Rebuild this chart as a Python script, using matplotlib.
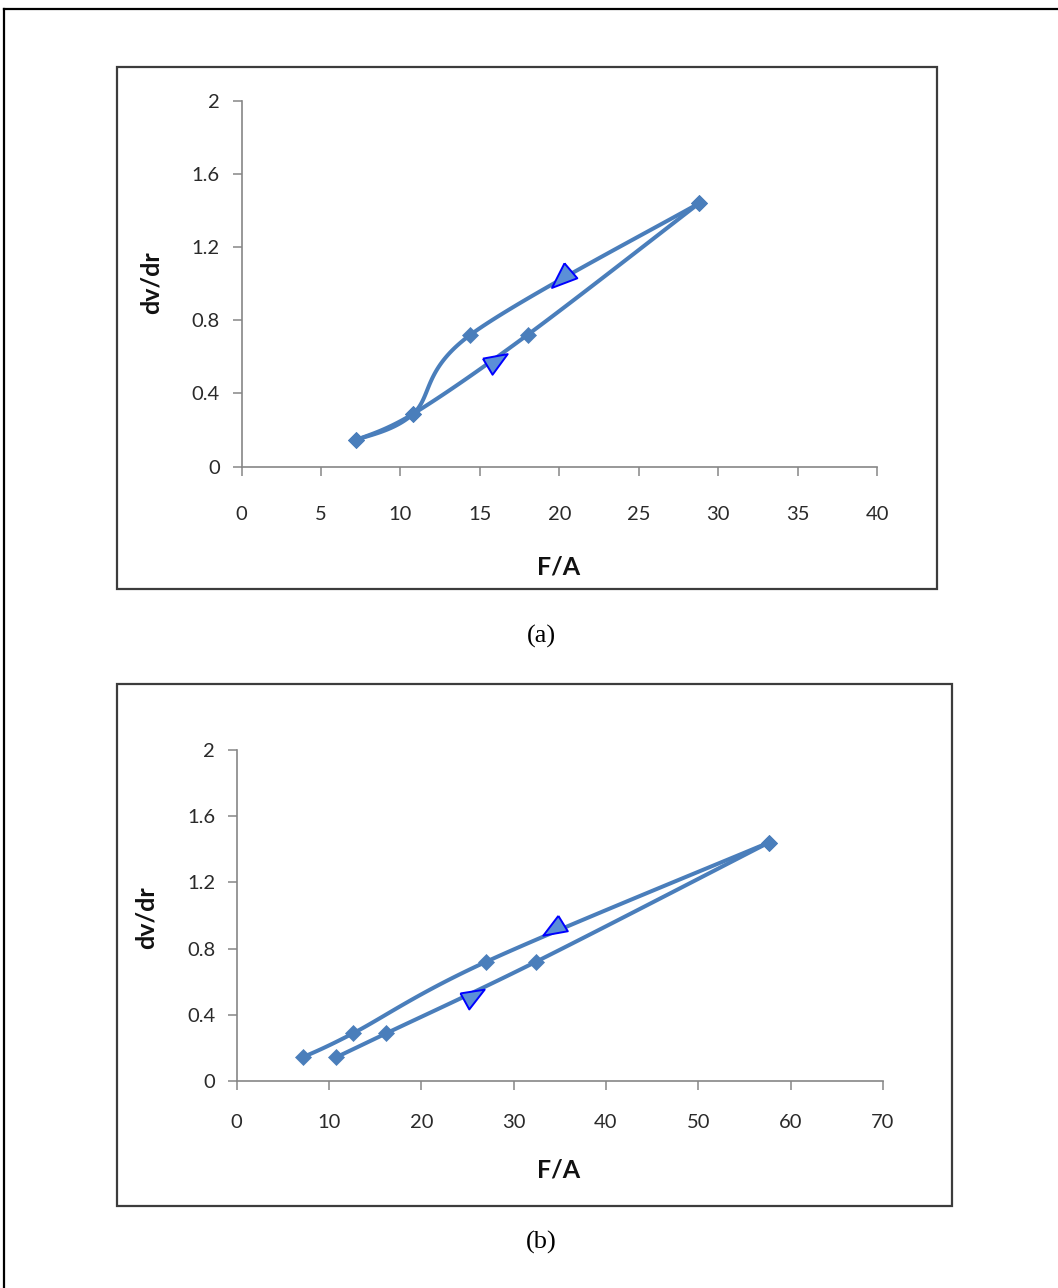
import numpy as np
import matplotlib
matplotlib.use('Agg')
import matplotlib.pyplot as plt
from matplotlib.patches import Rectangle
from matplotlib.lines import Line2D

# chart (a)
a_up_x = [7.2, 10.8, 14.4, 28.8]
a_up_y = [0.144, 0.288, 0.72, 1.44]
a_lo_x = [7.2, 10.8, 18.0, 28.8]
a_lo_y = [0.144, 0.288, 0.72, 1.44]
a_arrows = [(20.3, 1.04), (15.9, 0.57)]
a_xticks = [0, 5, 10, 15, 20, 25, 30, 35, 40]

# chart (b)
b_up_x = [7.2, 12.6, 27.0, 57.6]
b_up_y = [0.144, 0.288, 0.72, 1.44]
b_lo_x = [10.8, 16.2, 32.4, 57.6]
b_lo_y = [0.144, 0.288, 0.72, 1.44]
b_arrows = [(34.6, 0.93), (25.4, 0.51)]
b_xticks = [0, 10, 20, 30, 40, 50, 60, 70]

yticks = [0, 0.4, 0.8, 1.2, 1.6, 2]
ylabels = ['0', '0.4', '0.8', '1.2', '1.6', '2']

W, H = 1058, 1288
LINE = '#4A7EBB'
TRI_FILL = '#5B8FD8'
TRI_EDGE = '#0000FF'
AXC = '#868686'

# skewed triangle markers (y up)
tri_up_a = [(0, 37), (-35, -32), (36, -5), (0, 37)]
tri_dn_a = [(-36, 12), (41, 26), (-6, -38), (-36, 12)]
tri_up_b = [(6, 37), (-42, -26), (36, -12), (6, 37)]
tri_dn_b = [(-35, 13), (42, 25), (-7, -38), (-35, 13)]

fig = plt.figure(figsize=(W / 100, H / 100), dpi=100)


def fx(x):
    return x / W


def fy(y):
    return 1 - y / H


def smooth(ax, xs, ys, n=40):
    # excel-like smoothed line (catmull-rom bezier in screen space)
    P = ax.transData.transform(np.column_stack([xs, ys]))
    out = [P[0]]
    t = np.linspace(0, 1, n)[1:, None]
    for i in range(len(P) - 1):
        p0 = P[i - 1] if i > 0 else P[i]
        p3 = P[i + 2] if i + 2 < len(P) else P[i + 1]
        c1 = P[i] + (P[i + 1] - p0) / 6
        c2 = P[i + 1] - (p3 - P[i]) / 6
        seg = ((1 - t) ** 3 * P[i] + 3 * (1 - t) ** 2 * t * c1
               + 3 * (1 - t) * t ** 2 * c2 + t ** 3 * P[i + 1])
        out.extend(seg)
    out = ax.transData.inverted().transform(np.array(out))
    return out[:, 0], out[:, 1]


def make_chart(box, axpos, xmax, xticks, series, arrows, tris, xpad, ylab_xy, xlab_xy):
    x0, y0, x1, y1 = box
    fig.patches.append(Rectangle((fx(x0), fy(y1)), fx(x1 - x0), (y1 - y0) / H,
                                 transform=fig.transFigure, fill=False,
                                 edgecolor='#3c3c3c', linewidth=1.6))
    l, t, r, b = axpos
    ax = fig.add_axes([fx(l), fy(b), fx(r - l), (b - t) / H])
    ax.set_xlim(0, xmax)
    ax.set_ylim(0, 2)
    for xs, ys in series:
        sx, sy = smooth(ax, xs, ys)
        ax.plot(sx, sy, color=LINE, lw=2.9, solid_capstyle='round', zorder=3)
        ax.plot(xs, ys, ls='none', marker='D', ms=8.5, color=LINE,
                mec=LINE, mew=0.5, zorder=4)
    for (xa, ya), tv in zip(arrows, tris):
        ax.plot([xa], [ya], ls='none', marker=tv, ms=19, mfc=TRI_FILL,
                mec=TRI_EDGE, mew=1.4, zorder=5)
    ax.set_xticks(xticks)
    ax.set_xticklabels([str(v) for v in xticks])
    ax.set_yticks(yticks)
    ax.set_yticklabels(ylabels)
    for s in ['top', 'right']:
        ax.spines[s].set_visible(False)
    for s in ['left', 'bottom']:
        ax.spines[s].set_color(AXC)
        ax.spines[s].set_linewidth(1.2)
    ax.tick_params(direction='out', length=6.5, width=1.1, color=AXC,
                   labelsize=14.5, labelcolor='#2a2a2a')
    ax.tick_params(axis='x', pad=xpad)
    ax.tick_params(axis='y', pad=9)
    for lab in ax.get_xticklabels() + ax.get_yticklabels():
        lab.set_fontfamily('Lato')
    ax.patch.set_alpha(0)
    fig.text(fx(ylab_xy[0]), fy(ylab_xy[1]), 'dv/dr', rotation=90,
             ha='center', va='center', fontsize=18, fontweight='bold',
             family='Lato', color='#111111')
    fig.text(fx(xlab_xy[0]), fy(xlab_xy[1]), 'F/A', ha='center', va='center',
             fontsize=18, fontweight='bold', family='Lato', color='#111111')
    return ax


make_chart((117, 67, 937, 589), (241.5, 100.7, 877.3, 466.5), 40, a_xticks,
           [(a_up_x, a_up_y), (a_lo_x, a_lo_y)], a_arrows,
           [tri_up_a, tri_dn_a], 22, (151.5, 283), (559, 567))
make_chart((117, 684, 952, 1206), (236.7, 750, 883, 1081), 70, b_xticks,
           [(b_up_x, b_up_y), (b_lo_x, b_lo_y)], b_arrows,
           [tri_up_b, tri_dn_b], 17, (146, 918), (559, 1170))

fig.text(fx(541), fy(636), '(a)', ha='center', va='center', fontsize=19,
         family='Liberation Serif')
fig.text(fx(541), fy(1242), '(b)', ha='center', va='center', fontsize=19,
         family='Liberation Serif')

# page border
fig.lines.append(Line2D([fx(4), fx(4)], [fy(9), 0], transform=fig.transFigure,
                        color='black', lw=1.6))
fig.lines.append(Line2D([fx(4), 1], [fy(9), fy(9)], transform=fig.transFigure,
                        color='black', lw=1.6))

plt.savefig('out.png', dpi=100)
